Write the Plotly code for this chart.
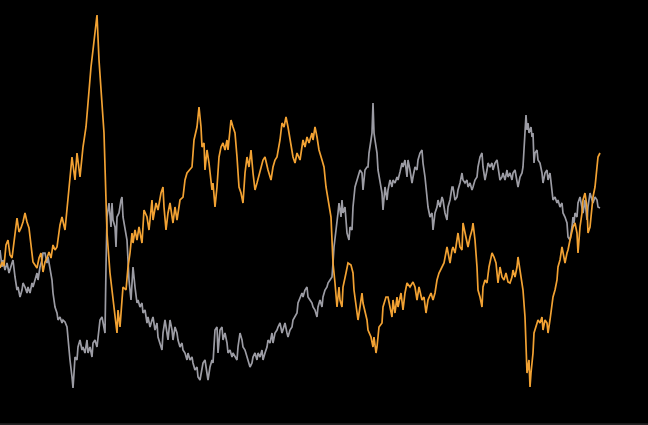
import plotly.graph_objects as go

# Orange series: time index and value
orange_t = [0,2,4,6,8,10,12,14,16,17,19,21,23,25,27,29,31,33,35,37,39,41,43,45,47,49,51,53,55,57,60,62,65,68,70,72,75,77,80,83,86,88,91,93,95,97,99,100,102,104,106,107,110,113,115,117,118,120,122,123,126,128,130,132,133,135,137,139,142,144,147,149,152,153,156,158,161,163,164,166,168,170,173,175,177,180,183,185,187,190,192,194,197,199,201,202,204,205,207,209,212,213,215,217,219,221,223,225,227,228,231,233,235,237,239,241,243,245,247,249,251,253,255,257,260,263,265,267,268,271,273,275,277,280,282,284,286,288,290,293,295,297,300,303,305,307,309,312,313,315,317,319,322,324,326,328,331,332,333,335,336,337,339,340,342,343,346,348,351,353,354,356,358,360,362,363,365,367,368,371,373,374,376,377,379,382,383,386,388,390,392,393,395,397,398,401,403,405,407,410,413,415,417,419,422,424,426,428,431,433,435,437,439,442,444,447,448,450,452,453,455,457,458,460,462,463,465,467,468,470,472,473,475,477,478,480,482,483,485,487,489,492,494,496,498,500,502,504,506,508,510,512,513,515,517,518,520,522,523,525,526,527,529,530,531,533,534,536,538,540,542,543,545,547,548,550,552,553,555,557,558,560,562,563,565,567,568,570,572,573,575,577,578,580,582,583,585,587,588,590,592,593,595,597,598,600]
orange_v = [157,163,159,180,185,170,167,185,200,207,193,197,203,212,203,197,180,163,160,157,167,172,153,163,167,173,167,180,175,178,200,208,195,225,245,268,245,272,248,278,298,325,358,375,392,410,365,352,325,292,225,192,152,125,105,92,115,98,125,138,135,158,172,192,182,195,185,198,182,215,208,195,225,205,222,215,232,238,218,195,212,222,202,218,205,225,228,245,252,255,258,285,298,318,298,278,282,255,275,262,235,242,218,238,268,278,282,275,285,275,305,298,292,268,238,232,222,252,268,258,275,252,235,242,255,265,268,258,255,245,258,265,268,285,302,298,308,298,285,268,262,272,265,285,278,288,282,292,285,298,288,275,265,258,238,225,208,185,162,142,125,118,138,125,118,138,152,162,160,152,135,118,105,118,132,122,112,105,95,88,78,88,72,78,98,102,118,128,128,118,108,125,112,128,118,132,115,132,142,138,143,138,125,138,125,128,112,125,132,125,132,145,152,158,162,178,172,162,175,178,172,185,192,178,175,202,192,185,178,188,195,202,185,158,135,128,118,138,145,142,158,172,168,162,142,158,148,145,152,143,142,148,155,148,158,168,155,138,135,108,75,52,65,38,52,72,92,98,105,102,108,95,105,102,92,105,122,128,135,145,158,165,178,172,162,172,175,185,192,198,202,192,172,198,212,225,232,218,192,198,218,228,238,258,268,272]

# Grey series: time index and value
grey_t = [0,2,3,5,7,9,12,13,15,17,18,20,22,23,25,27,28,30,32,33,35,37,38,40,42,43,45,47,48,50,52,53,55,57,58,60,62,63,65,67,68,70,72,73,74,75,77,78,80,82,83,85,87,88,90,92,93,95,97,98,100,102,103,105,106,107,109,111,112,113,115,116,117,119,121,122,123,125,127,128,129,131,132,133,135,137,138,140,142,143,145,147,148,150,152,153,155,157,158,160,162,163,165,167,168,170,172,173,175,177,178,180,182,183,185,187,188,190,192,193,195,197,198,200,202,203,205,207,208,210,212,213,215,217,218,220,222,223,225,227,228,230,232,233,235,237,238,240,242,243,245,247,248,250,252,253,255,257,258,260,262,263,265,267,268,270,272,273,275,277,278,280,282,283,285,287,288,290,292,293,295,297,298,300,302,303,305,307,308,310,312,313,315,317,318,320,322,323,325,327,328,330,332,333,334,336,337,338,339,341,342,343,345,346,347,349,350,352,353,355,357,358,360,362,363,365,367,368,369,371,372,373,374,375,377,378,380,382,383,385,387,388,390,392,393,395,397,398,400,402,403,405,407,408,410,412,413,415,417,418,420,422,423,425,427,428,430,432,433,435,437,438,440,442,443,445,447,448,450,452,453,455,457,458,460,462,463,465,467,468,470,472,473,475,477,478,480,482,483,485,487,488,490,492,493,495,497,498,500,502,503,505,507,508,510,512,513,515,517,518,520,522,523,524,525,526,527,528,529,531,532,533,534,535,537,538,540,542,543,545,547,548,550,552,553,555,557,558,560,562,563,565,567,568,570,572,573,574,575,577,578,580,582,583,585,587,588,590,592,593,595,597,598,600]
grey_v = [175,158,165,155,162,152,162,165,148,135,138,128,135,142,138,132,138,132,142,138,145,152,145,158,165,172,172,162,168,158,145,132,118,112,105,108,102,105,103,98,85,65,48,37,52,68,65,78,85,75,78,72,85,72,78,68,82,85,78,88,105,108,103,92,158,208,222,198,222,205,198,178,208,212,225,228,208,198,185,165,145,125,145,158,138,122,125,118,122,112,115,102,108,98,105,108,95,102,88,82,75,92,105,92,85,105,95,85,98,92,85,78,82,75,72,65,72,65,68,62,55,58,48,45,55,62,65,52,45,58,65,62,95,98,72,95,98,85,92,82,72,75,68,72,68,65,78,92,85,78,75,68,65,58,62,68,72,65,72,68,75,65,72,78,85,82,92,82,92,95,98,102,92,95,102,92,88,95,98,105,108,112,122,128,132,128,135,138,128,125,122,118,115,108,118,125,118,128,135,138,142,145,148,162,178,195,208,212,222,208,225,212,218,205,192,185,198,195,218,238,245,248,255,252,235,255,258,258,272,285,292,322,292,285,272,255,242,232,215,238,225,235,245,238,245,242,248,245,253,262,258,265,248,265,255,242,248,258,255,265,272,275,262,248,228,218,208,212,195,212,218,225,218,228,225,212,205,218,225,238,238,225,228,235,242,252,245,242,245,238,242,235,238,245,248,258,268,272,258,245,255,262,258,262,255,262,265,258,245,248,252,245,255,248,252,245,252,255,245,238,248,252,258,275,292,310,295,302,292,298,288,292,262,272,275,265,262,252,242,252,255,245,252,235,225,228,222,225,218,222,212,208,202,188,185,198,208,202,212,208,222,228,215,212,225,205,218,232,225,222,228,225,218,217]

fig = go.Figure()
fig.add_trace(go.Scatter(x=grey_t, y=grey_v, mode="lines",
                         line=dict(color="#9c9ca4", width=1.7), hoverinfo="skip"))
fig.add_trace(go.Scatter(x=orange_t, y=orange_v, mode="lines",
                         line=dict(color="#f2a233", width=1.7), hoverinfo="skip"))

fig.update_layout(
    width=648, height=425,
    margin=dict(l=0, r=0, t=0, b=0),
    paper_bgcolor="#000000", plot_bgcolor="#000000",
    showlegend=False,
    xaxis=dict(range=[0, 648], visible=False, fixedrange=True),
    yaxis=dict(range=[0, 425], visible=False, fixedrange=True),
    shapes=[dict(type="rect", xref="paper", yref="paper", x0=0, x1=1, y0=0, y1=0.004,
                 fillcolor="#222222", line=dict(width=0), layer="below")],
)

fig.write_html(
    "out.html",
    config={"displayModeBar": False},
    post_script="document.body.style.margin='0';document.body.style.padding='0';document.body.style.background='#000';document.body.style.overflow='hidden';",
)
